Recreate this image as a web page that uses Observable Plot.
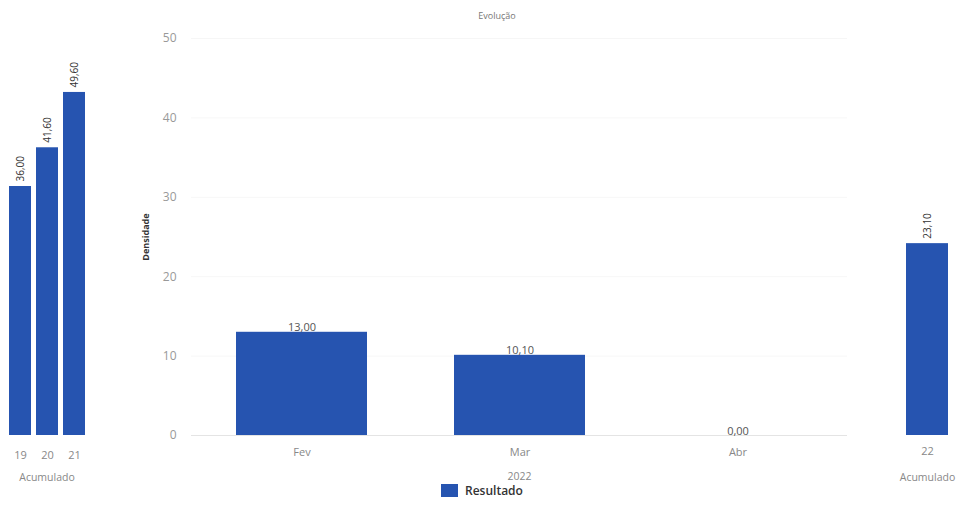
<!DOCTYPE html>
<html>
<head>
<meta charset="utf-8">
<script src="https://cdn.jsdelivr.net/npm/d3@7"></script>
<script src="https://cdn.jsdelivr.net/npm/@observablehq/plot@0.6"></script>
<style>
  body { margin: 0; background: #fff; font-family: "Open Sans", sans-serif; }
  #wrap { position: relative; width: 974px; height: 526px; overflow: hidden; background: #fff; }
  #wrap > div.panel { position: absolute; top: 0; }
  #left { left: 0; }
  #main { left: 120px; }
  #right { left: 880px; }
  #title { position: absolute; top: 9px; left: 0; width: 994px; text-align: center; font-size: 9px; color: #777; z-index: 2; }
  #legend { position: absolute; top: 482px; left: 441px; display: flex; align-items: center; font-size: 12px; font-weight: 600; color: #333; z-index: 2; }
  #legend .sw { width: 17px; height: 13px; background: #2654b0; margin-right: 7px; }
  g[aria-label="y-axis label"] text { font-weight: bold; font-size: 9px; fill: #333; }
  g[aria-label="x-axis label"] text { font-size: 10.5px; fill: #888; }
</style>
</head>
<body>
<div id="wrap">
  <div id="title">Evolução</div>
  <div class="panel" id="left"></div>
  <div class="panel" id="main"></div>
  <div class="panel" id="right"></div>
  <div id="legend"><div class="sw"></div><span>Resultado</span></div>
</div>
<script>
const leftYears = ["19", "20", "21"];
const leftValues = [36.0, 41.6, 49.6];
const months = ["Fev", "Mar", "Abr"];
const monthValues = [13.0, 10.1, 0.0];
const rightYears = ["22"];
const rightValues = [23.1];
const yTicks = [0, 10, 20, 30, 40, 50];
const seriesName = "Resultado";
const yLabel = "Densidade";
const yearLabel = "2022";
const accLabel = "Acumulado";

const BLUE = "#2654b0";
const fmt = v => v.toFixed(2).replace(".", ",");

const leftData = leftYears.map((k, i) => ({k, v: leftValues[i]}));
const mainData = months.map((k, i) => ({k, v: monthValues[i]}));
const rightData = rightYears.map((k, i) => ({k, v: rightValues[i]}));

function sidePanel(data, opts) {
  return Plot.plot({
    width: opts.width,
    height: 526,
    marginTop: 38,
    marginBottom: 91,
    marginLeft: opts.ml,
    marginRight: opts.mr,
    style: {fontFamily: "Open Sans, sans-serif", background: "transparent", overflow: "visible"},
    x: {type: "band", domain: data.map(d => d.k), padding: 0.2, label: accLabel, labelAnchor: "center", labelArrow: "none"},
    y: {domain: [0, opts.ymax], axis: null},
    marks: [
      Plot.barY(data, {x: "k", y: "v", fill: BLUE}),
      Plot.text(data, {x: "k", y: "v", text: d => fmt(d.v), rotate: -90, textAnchor: "start", lineAnchor: "middle", dy: -5, fontSize: 10, fill: "#333"}),
      Plot.axisX({tickSize: 0, tickPadding: opts.tp, fontSize: 11, color: "#888", label: accLabel, labelAnchor: "center", labelOffset: 45, labelArrow: "none", dx: opts.ldx || 0})
    ]
  });
}

document.getElementById("left").append(sidePanel(leftData, {width: 93, ml: 2.5, mr: 2.5, ymax: 57.4, tp: 16}));
document.getElementById("right").append(sidePanel(rightData, {width: 94, ml: 15, mr: 15, ymax: 47.8, tp: 12}));

const mainPlot = Plot.plot({
  width: 740,
  height: 526,
  marginTop: 38,
  marginBottom: 91,
  marginLeft: 71,
  marginRight: 13,
  style: {fontFamily: "Open Sans, sans-serif", background: "transparent", overflow: "visible"},
  x: {type: "band", domain: months, paddingInner: 0.4, paddingOuter: 0.2, label: yearLabel},
  y: {domain: [0, 50], label: yLabel},
  marks: [
    Plot.gridY(yTicks, {stroke: "#000", strokeOpacity: 0.035}),
    Plot.ruleY([0], {stroke: "#e4e4e4"}),
    Plot.barY(mainData, {x: "k", y: "v", fill: BLUE}),
    Plot.text(mainData, {x: "k", y: "v", text: d => fmt(d.v), textAnchor: "middle", lineAnchor: "bottom", dy: -1, fontSize: 11, fill: "#555"}),
    Plot.axisY({ticks: yTicks, tickSize: 0, tickPadding: 15, fontSize: 12, color: "#999", label: yLabel, labelAnchor: "center", labelOffset: 49, labelArrow: "none"}),
    Plot.axisX({tickSize: 0, tickPadding: 13, fontSize: 11, color: "#888", label: yearLabel, labelAnchor: "center", labelOffset: 44, labelArrow: "none"})
  ]
});
document.getElementById("main").append(mainPlot);
</script>
</body>
</html>
